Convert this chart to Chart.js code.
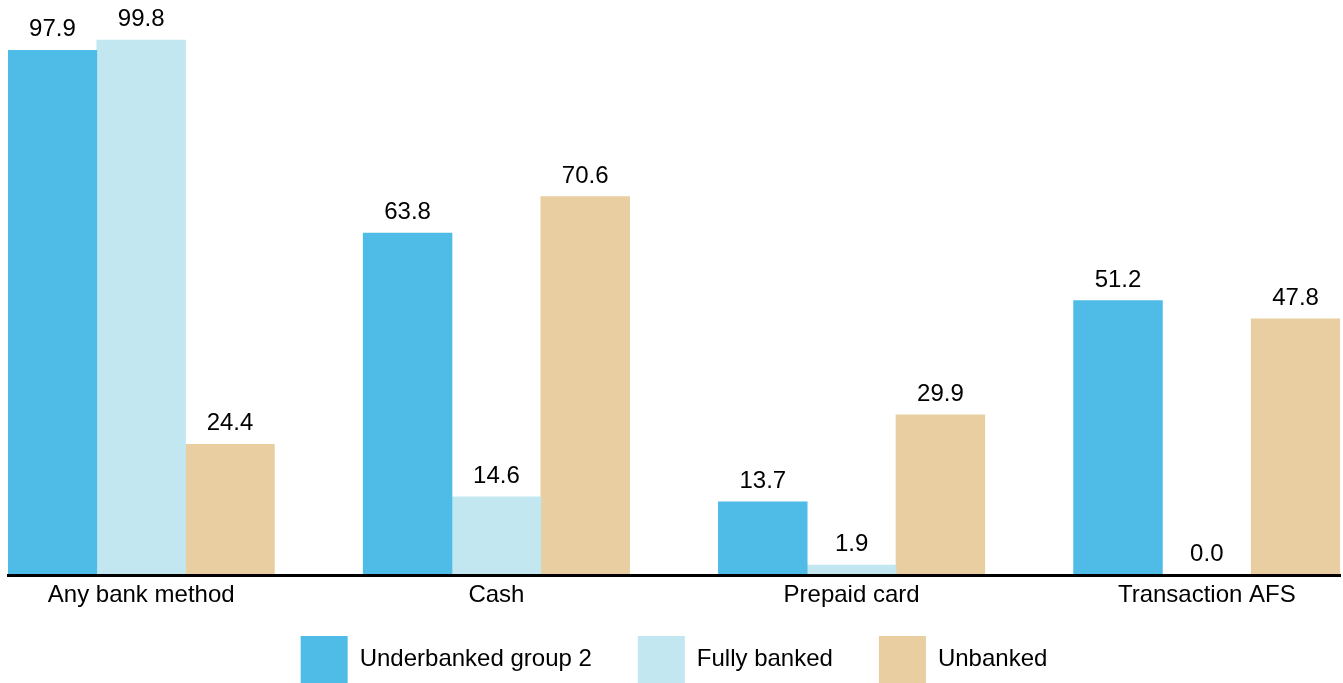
<!DOCTYPE html>
<html>
<head>
<meta charset="utf-8">
<script src="https://cdn.jsdelivr.net/npm/chart.js@4"></script>
<style>
    body { margin: 0; background: #fff; }
    .grafico { width: 1343px; height: 683px; }
</style>
</head>
<body>
<div class="grafico"><canvas id="meuGrafico"></canvas></div>
<script>
const categorias = ['Any bank method', 'Cash', 'Prepaid card', 'Transaction AFS'];
const underbanked = [97.9, 63.8, 13.7, 51.2];
const fullyBanked = [99.8, 14.6, 1.9, 0.0];
const unbanked = [24.4, 70.6, 29.9, 47.8];

const series = [
    { label: 'Underbanked group 2', valores: underbanked, cor: 'rgb(79, 187, 231)' },
    { label: 'Fully banked', valores: fullyBanked, cor: 'rgb(195, 231, 241)' },
    { label: 'Unbanked', valores: unbanked, cor: 'rgb(232, 206, 160)' }
];

// cada categoria ocupa 3 barras + 1 espaço vazio (a última sem espaço)
const porGrupo = series.length + 1;
const totalSlots = categorias.length * porGrupo - 1;

const labels = [];
for (let i = 0; i < totalSlots; i++) labels.push('');
categorias.forEach(function (c, i) {
    labels[i * porGrupo + 1] = c;
});

const datasets = series.map(function (s, k) {
    const data = [];
    for (let i = 0; i < totalSlots; i++) data.push(null);
    s.valores.forEach(function (v, i) {
        data[i * porGrupo + k] = v;
    });
    return {
        label: s.label,
        data: data,
        backgroundColor: s.cor,
        borderWidth: 0,
        barPercentage: 1,
        categoryPercentage: 1
    };
});

const fonte = '"Liberation Sans", Arial, sans-serif';
const caixaLegenda = 47;
const espacoLegenda = 46;

// escreve os valores em cima das barras
const rotulosValores = {
    id: 'rotulosValores',
    afterDatasetsDraw(chart) {
        const ctx = chart.ctx;
        ctx.save();
        ctx.font = '24px ' + fonte;
        ctx.fillStyle = '#000';
        ctx.textAlign = 'center';
        ctx.textBaseline = 'alphabetic';
        chart.data.datasets.forEach(function (ds, i) {
            chart.getDatasetMeta(i).data.forEach(function (bar, j) {
                const v = ds.data[j];
                if (v === null) return;
                ctx.fillText(v.toFixed(1), bar.x, bar.y - 14);
            });
        });
        ctx.restore();
    }
};

// o padding da legenda vale para horizontal e vertical, então sobe a legenda
const ajustaLegenda = {
    id: 'ajustaLegenda',
    afterLayout(chart) {
        chart.legend.top = chart.legend.bottom - caixaLegenda - espacoLegenda;
    }
};

const ctx = document.getElementById('meuGrafico').getContext('2d');

new Chart(ctx, {
    type: 'bar',
    data: {
        labels: labels,
        datasets: datasets
    },
    plugins: [rotulosValores, ajustaLegenda],
    options: {
        responsive: true,
        maintainAspectRatio: false,
        animation: false,
        layout: {
            padding: { top: 39, left: 8, right: 3, bottom: 0 }
        },
        datasets: {
            bar: { grouped: false }
        },
        plugins: {
            tooltip: { enabled: false },
            legend: {
                position: 'bottom',
                maxHeight: 67,
                labels: {
                    boxWidth: caixaLegenda,
                    boxHeight: caixaLegenda,
                    padding: espacoLegenda,
                    color: '#000',
                    font: { family: fonte, size: 24 }
                }
            }
        },
        scales: {
            x: {
                grid: { display: false, drawTicks: false },
                border: { display: true, color: '#000', width: 3, z: 1 },
                ticks: {
                    autoSkip: false,
                    maxRotation: 0,
                    padding: 6,
                    color: '#000',
                    font: { family: fonte, size: 24 }
                }
            },
            y: {
                display: false,
                beginAtZero: true,
                min: 0,
                max: 100
            }
        }
    }
});
</script>
</body>
</html>
